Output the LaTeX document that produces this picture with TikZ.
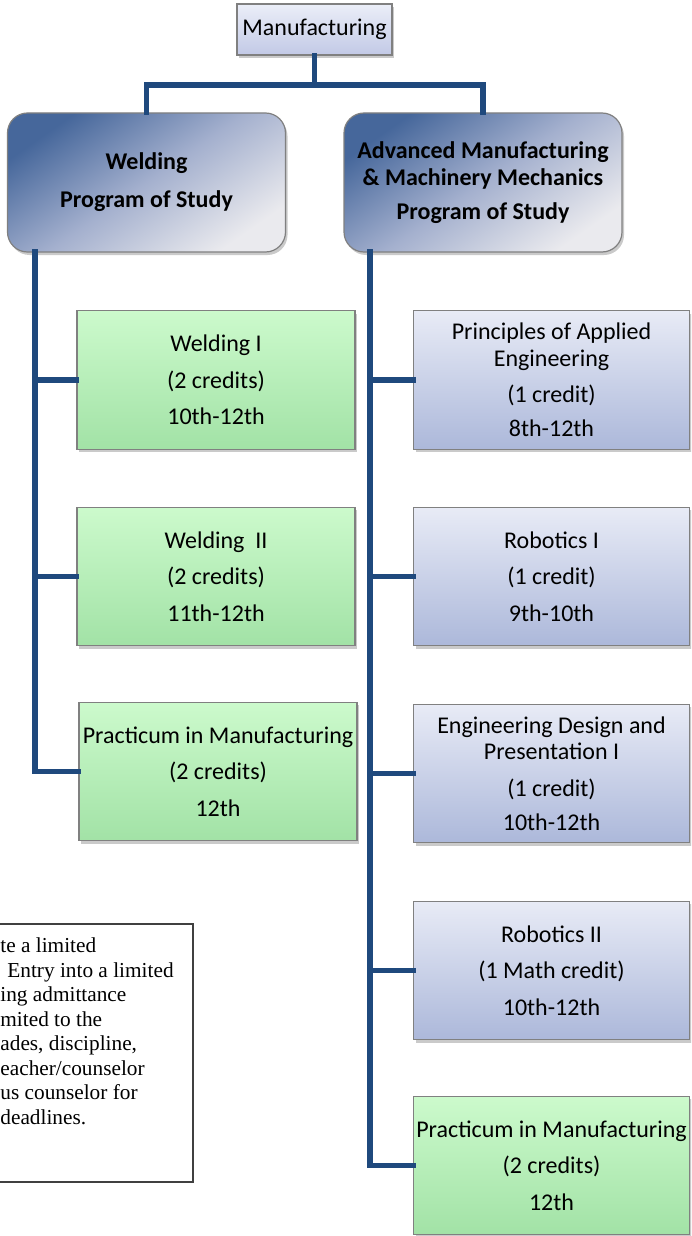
\documentclass[tikz,border=0pt]{standalone}
\usepackage{fontspec}
\setmainfont{Carlito}
\newfontfamily\timesf{Liberation Serif}
\usetikzlibrary{shadows}
\definecolor{conncol}{HTML}{1F497D}
\definecolor{pdark}{HTML}{46679B}
\definecolor{pmid}{HTML}{A4B0CE}
\definecolor{plight}{HTML}{EAEAEE}
\definecolor{gtop}{HTML}{CCFACC}
\definecolor{gbot}{HTML}{A2E2A6}
\definecolor{btop}{HTML}{E8EBF6}
\definecolor{bbot}{HTML}{ACB8DA}
\definecolor{ttop}{HTML}{EBEEF8}
\definecolor{tbot}{HTML}{C2C9E6}
\tikzset{
  boxshadow/.style={drop shadow={shadow xshift=1pt, shadow yshift=-1.5pt, opacity=0.35, fill=black!60}},
  basebox/.style={draw=black!50, line width=0.6pt, align=center, inner sep=0pt,
    font=\fontsize{12pt}{18.25pt}\selectfont, boxshadow},
  topbox/.style={basebox, top color=ttop, bottom color=tbot,
    minimum width=77.5pt, minimum height=25.5pt},
  progbox/.style={basebox, rounded corners=10pt, top color=pdark, bottom color=plight,
    middle color=pmid, shading angle=35, minimum width=139pt, minimum height=69.5pt,
    font=\bfseries\fontsize{12pt}{18.25pt}\selectfont},
  greenbox/.style={basebox, top color=gtop, bottom color=gbot,
    minimum width=139pt, minimum height=69.25pt},
  bluebox/.style={basebox, top color=btop, bottom color=bbot,
    minimum width=138pt, minimum height=69.25pt},
  conn/.style={draw=conncol, line width=2.8pt, line cap=rect, line join=miter},
  notebox/.style={draw=black!75, line width=0.7pt, fill=white, minimum width=113.5pt,
    minimum height=129pt, inner sep=0pt},
  notetext/.style={align=left, inner sep=0pt,
    font=\timesf\fontsize{10.65pt}{12.25pt}\selectfont}
}
\begin{document}
\begin{tikzpicture}[x=0.5pt,y=-0.5pt]
\useasboundingbox (0,0) rectangle (691,1236);
\clip (0,0) rectangle (691,1236);

% top
\node[topbox] (top) at (314.5,29.5) {Manufacturing};

% program boxes
\node[progbox] (progL) at (146.5,182.5) {Welding\\[0.75pt]Program of Study};
\node[progbox] (progR) at (483,182.5) {Advanced Manufacturing\\[-4.75pt]\& Machinery Mechanics\\[-1.25pt]Program of Study};

% left column
\node[greenbox] (w1) at (216,380) {Welding I\\(2 credits)\\10th-12th};
\node[greenbox] (w2) at (216,576.5) {Welding\ \ II\\(2 credits)\\11th-12th};
\node[greenbox] (wp) at (218,771.5) {Practicum in Manufacturing\\(2 credits)\\12th};

% right column
\node[bluebox] (r1) at (551.5,380) {Principles of Applied\\[-5pt]Engineering\\(1 credit)\\[-1pt]8th-12th};
\node[bluebox] (r2) at (551.5,576.5) {Robotics I\\(1 credit)\\9th-10th};
\node[bluebox] (r3) at (551.5,773.5) {Engineering Design and\\[-5pt]Presentation I\\(1 credit)\\[-1pt]10th-12th};
\node[bluebox] (r4) at (551.5,970.5) {Robotics II\\(1 Math credit)\\10th-12th};
\node[greenbox, minimum width=138pt] (r5) at (551.5,1165.5) {Practicum in Manufacturing\\(2 credits)\\12th};

% connectors
\coordinate (j) at (314.5,85);
\draw[conn] (top.south) -- (j);
\draw[conn] (progL.north) |- (j) -| (progR.north);

\coordinate (tl) at (35,252);
\draw[conn] (tl) |- (wp.west);
\draw[conn] (tl |- w1.west) -- (w1.west);
\draw[conn] (tl |- w2.west) -- (w2.west);

\coordinate (tr) at (370,252);
\draw[conn] (tr) |- (r5.west);
\draw[conn] (tr |- r1.west) -- (r1.west);
\draw[conn] (tr |- r2.west) -- (r2.west);
\draw[conn] (tr |- r3.west) -- (r3.west);
\draw[conn] (tr |- r4.west) -- (r4.west);

% note
\node[notebox] (note) at (79.5,1053) {};
\node[notetext, anchor=north west] (notetext) at (0,937.5) {te a limited\\
\hspace*{3.5pt}Entry into a limited\\
ing admittance\\
mited to the\\
ades, discipline,\\
eacher/counselor\\
us counselor for\\
deadlines.};
\end{tikzpicture}
\end{document}
